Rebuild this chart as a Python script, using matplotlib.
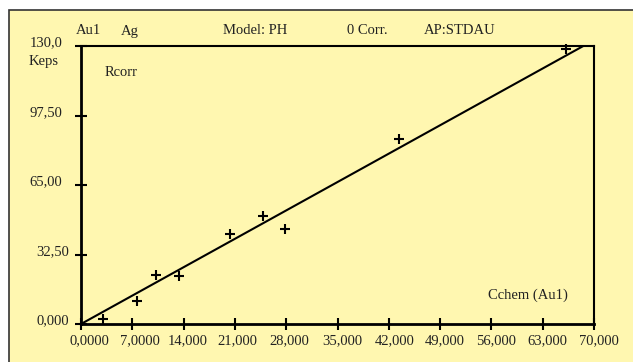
import matplotlib.pyplot as plt
import matplotlib.transforms as mtransforms
from matplotlib.patches import Rectangle

# measured points (Cchem, Rcorr)
cchem = [2950, 7600, 10200, 13400, 20300, 24900, 27900, 43400, 66200]
rcorr = [2.3, 10.9, 22.8, 22.4, 41.9, 50.6, 44.4, 86.4, 128.5]

# calibration line end points
fit_x = [0, 68540]
fit_y = [0, 130.0]

xticks = [0, 7000, 14000, 21000, 28000, 35000, 42000, 49000, 56000, 63000, 70000]
xlabels = ['0,0000', '7,0000', '14,000', '21,000', '28,000', '35,000',
           '42,000', '49,000', '56,000', '63,000', '70,000']
yticks = [0, 32.5, 65, 97.5, 130]
ylabels = ['0,000', '32,50', '65,00', '97,50', '130,0']

# small pixel shifts of the tick labels as placed in the original
xlab_dx = [8, 8, 4.5, 2, 3, 4.5, 5.7, 4.7, 4.3, 5, 4.5]
ylab_dx = [0, 0, -7, -7, -7]

bg = '#fff7b0'
plt.rcParams['font.family'] = 'Liberation Serif'
plt.rcParams['font.size'] = 10.5

fig = plt.figure(figsize=(6.33, 3.62), dpi=100)
fig.patch.set_facecolor('white')
W, H = 633, 362
fig.patches.append(Rectangle((8.5 / W, -0.05), 1.1, (H - 10) / H + 0.05,
                             transform=fig.transFigure, facecolor=bg,
                             edgecolor='#333333', linewidth=1.2, zorder=-5))

ax = fig.add_axes([81 / W, 1 - 324 / H, (594 - 81) / W, (324 - 46) / H])
ax.set_facecolor('none')
ax.set_zorder(2)

ax.plot(fit_x, fit_y, color='black', linewidth=1.5, clip_on=True)
ax.plot(cchem, rcorr, linestyle='none', marker='+', color='black',
        markersize=7, markeredgewidth=1.5, clip_on=False)

ax.set_xlim(0, 70000)
ax.set_ylim(0, 130)
ax.set_xticks(xticks)
ax.set_xticklabels(xlabels)
ax.set_yticks(yticks)
ax.set_yticklabels(ylabels)

ax.spines['left'].set_linewidth(2)
ax.spines['bottom'].set_linewidth(2)
ax.spines['top'].set_linewidth(1.5)
ax.spines['right'].set_linewidth(1.5)
ax.tick_params(direction='inout', length=9, width=1.5, color='black',
               labelcolor='#222222')
ax.tick_params(axis='x', pad=3)
ax.tick_params(axis='y', pad=4)

for lab, dx in zip(ax.get_xticklabels(), xlab_dx):
    off = mtransforms.ScaledTranslation(dx / 100, 0, fig.dpi_scale_trans)
    lab.set_transform(lab.get_transform() + off)
for lab, dx in zip(ax.get_yticklabels(), ylab_dx):
    off = mtransforms.ScaledTranslation(dx / 100, 4.5 / 100, fig.dpi_scale_trans)
    lab.set_transform(lab.get_transform() + off)


def ftext(x, y, s, ha='left'):
    fig.text(x / W, 1 - y / H, s, ha=ha, va='center', color='#222222',
             zorder=3)


ftext(76, 31, 'Au1')
ftext(121, 31, 'Ag')
ftext(255, 31, 'Model: PH', ha='center')
ftext(367, 31, '0 Corr.', ha='center')
ftext(460, 31, 'AP:STDAU', ha='center')
ftext(29, 61, 'Keps')
ftext(105, 73, 'Rcorr')
ftext(528, 295, 'Cchem (Au1)', ha='center')

fig.savefig('out.png', dpi=100, facecolor=fig.get_facecolor())
